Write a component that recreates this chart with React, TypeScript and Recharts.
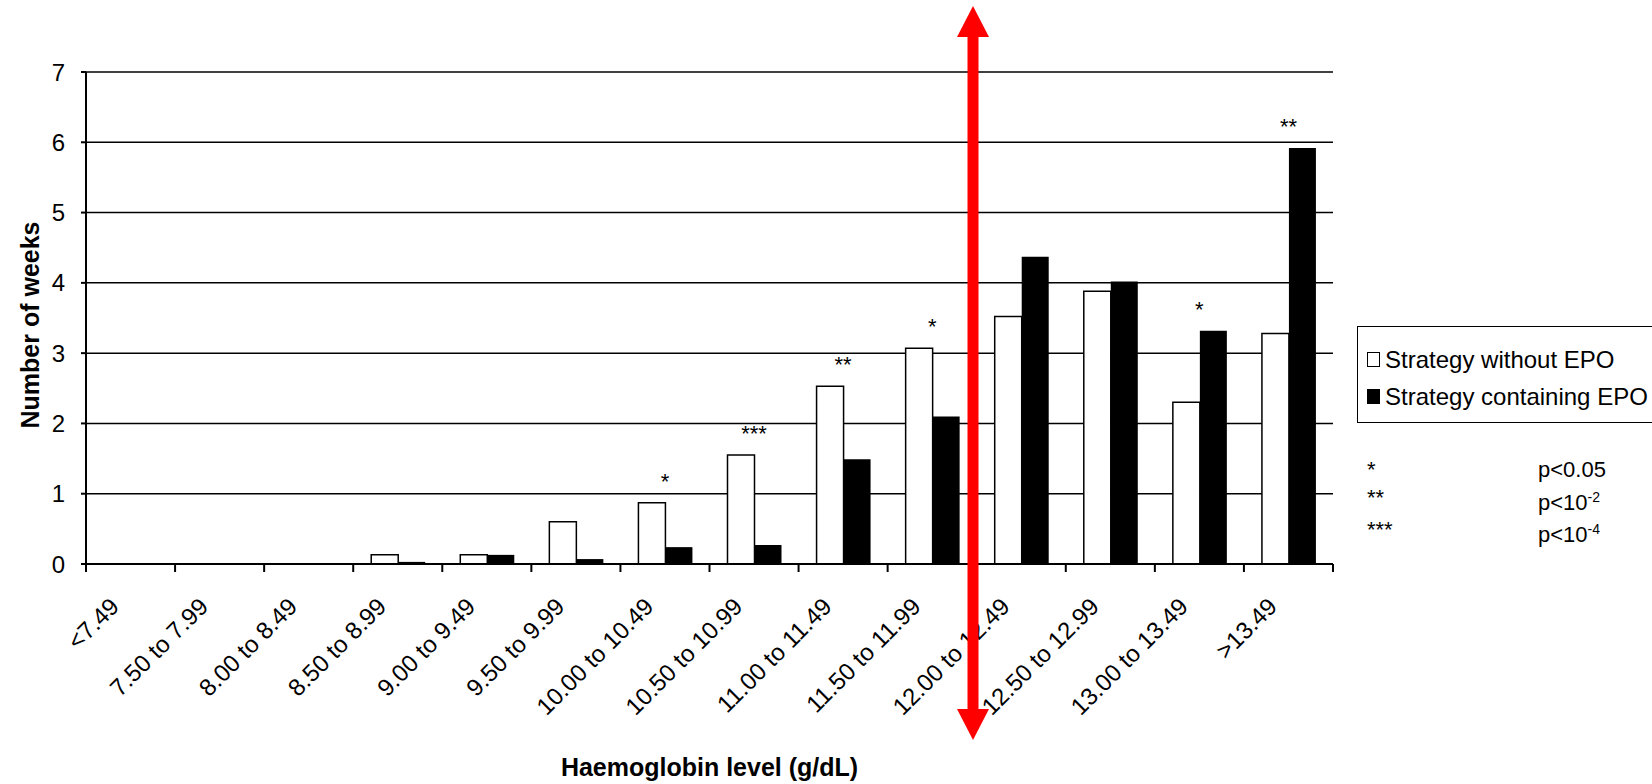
import React from "react";
import {
  ComposedChart,
  Bar,
  Line,
  XAxis,
  YAxis,
  CartesianGrid,
  Legend,
  LabelList,
} from "recharts";

const categories = [
  "<7.49",
  "7.50 to 7.99",
  "8.00 to 8.49",
  "8.50 to 8.99",
  "9.00 to 9.49",
  "9.50 to 9.99",
  "10.00 to 10.49",
  "10.50 to 10.99",
  "11.00 to 11.49",
  "11.50 to 11.99",
  "12.00 to 12.49",
  "12.50 to 12.99",
  "13.00 to 13.49",
  ">13.49",
];
const seriesNames = ["Strategy without EPO", "Strategy containing EPO"];
const withoutEpo = [0, 0, 0, 0.13, 0.13, 0.6, 0.87, 1.55, 2.53, 3.07, 3.52, 3.88, 2.3, 3.28];
const containingEpo = [0, 0, 0, 0.03, 0.13, 0.07, 0.24, 0.27, 1.49, 2.1, 4.37, 4.02, 3.32, 5.92];
const significance = ["", "", "", "", "", "", "*", "***", "**", "*", "", "", "*", "**"];
const yTicks = [0, 1, 2, 3, 4, 5, 6, 7];
const notes = [
  { stars: "*", text: "p<0.05", exp: "" },
  { stars: "**", text: "p<10", exp: "-2" },
  { stars: "***", text: "p<10", exp: "-4" },
];

const data = categories.map((cat, i) => ({
  cat,
  without: withoutEpo[i],
  containing: containingEpo[i],
  top: Math.max(withoutEpo[i], containingEpo[i]),
  mark: significance[i],
}));

const FONT = "'Liberation Sans', Arial, sans-serif";
const W = 1652;
const H = 784;
const PLOT_LEFT = 86;
const PLOT_RIGHT = 1333;
const BAND = (PLOT_RIGHT - PLOT_LEFT) / categories.length;

function XTick(props: any) {
  const { x, y, payload, index } = props;
  const tx = x - 10;
  const ty = y + 44;
  return (
    <g>
      <line x1={x - BAND / 2} x2={x - BAND / 2} y1={y} y2={y + 8} stroke="#000" strokeWidth={2} />
      {index === categories.length - 1 && (
        <line x1={x + BAND / 2} x2={x + BAND / 2} y1={y} y2={y + 8} stroke="#000" strokeWidth={2} />
      )}
      <text
        x={tx}
        y={ty}
        transform={`rotate(-45 ${tx} ${ty})`}
        textAnchor="end"
        fontSize={24}
        fontFamily={FONT}
        fill="#000"
      >
        {payload.value}
      </text>
    </g>
  );
}

function LegendBox(props: any) {
  const items = (props.payload || [])
    .filter((p: any) => seriesNames.includes(p.value))
    .sort((a: any, b: any) => seriesNames.indexOf(a.value) - seriesNames.indexOf(b.value));
  return (
    <div style={{ fontFamily: FONT, color: "#000" }}>
      <div
        style={{
          border: "1.5px solid #000",
          boxSizing: "border-box",
          height: 97,
          paddingTop: 14,
          paddingLeft: 9,
          fontSize: 24,
        }}
      >
        {items.map((it: any) => (
          <div key={it.value} style={{ display: "flex", alignItems: "center", height: 37 }}>
            <span
              style={{
                display: "inline-block",
                width: 11,
                height: 13,
                border: "1.5px solid #000",
                background: it.color,
                marginRight: 5,
              }}
            />
            <span style={{ whiteSpace: "nowrap" }}>{it.value}</span>
          </div>
        ))}
      </div>
      <div style={{ marginTop: 33, fontSize: 22, lineHeight: "27.5px" }}>
        {notes.map((n) => (
          <div key={n.stars} style={{ display: "flex" }}>
            <span style={{ width: 181, paddingLeft: 10, boxSizing: "border-box" }}>{n.stars}</span>
            <span style={{ whiteSpace: "nowrap" }}>
              {n.text}
              {n.exp && <sup style={{ fontSize: 14 }}>{n.exp}</sup>}
            </span>
          </div>
        ))}
      </div>
    </div>
  );
}

export default function App() {
  return (
    <div style={{ position: "absolute", left: 0, top: 0, width: W, height: H, background: "#fff" }}>
      <ComposedChart
        width={W}
        height={H}
        data={data}
        margin={{ top: 72, right: W - PLOT_RIGHT, bottom: 0, left: 0 }}
        barGap={0}
        barSize={27}
      >
        <CartesianGrid vertical={false} stroke="#000" strokeWidth={1.5} />
        <XAxis
          dataKey="cat"
          interval={0}
          height={220}
          tickSize={0}
          tickMargin={0}
          tickLine={false}
          axisLine={{ stroke: "#000", strokeWidth: 2 }}
          tick={<XTick />}
          label={{
            value: "Haemoglobin level (g/dL)",
            position: "insideBottom",
            offset: 8,
            style: { fontFamily: FONT, fontSize: 25, fontWeight: "bold", fill: "#000" },
          }}
        />
        <YAxis
          width={PLOT_LEFT}
          domain={[0, 7]}
          ticks={yTicks}
          interval={0}
          tickSize={5}
          tickMargin={16}
          axisLine={{ stroke: "#000", strokeWidth: 2 }}
          tickLine={{ stroke: "#000", strokeWidth: 2 }}
          tick={{ fontSize: 24, fontFamily: FONT, fill: "#000" }}
          label={{
            value: "Number of weeks",
            content: () => (
              <text
                x={30}
                y={325}
                transform="rotate(-90 30 325)"
                textAnchor="middle"
                dominantBaseline="central"
                fontSize={25}
                fontWeight="bold"
                fontFamily={FONT}
                fill="#000"
              >
                Number of weeks
              </text>
            ),
          }}
        />
        <Legend
          layout="vertical"
          align="center"
          verticalAlign="middle"
          content={<LegendBox />}
          wrapperStyle={{ left: 1357, top: 326, width: 300, height: "auto" }}
        />
        <Bar
          dataKey="without"
          name={seriesNames[0]}
          fill="#fff"
          stroke="#000"
          strokeWidth={1.5}
          isAnimationActive={false}
        />
        <Bar dataKey="containing" name={seriesNames[1]} fill="#000" isAnimationActive={false} />
        <Line
          dataKey="top"
          stroke="none"
          dot={false}
          activeDot={false}
          legendType="none"
          isAnimationActive={false}
        >
          <LabelList
            dataKey="mark"
            position="top"
            offset={14}
            style={{ fontFamily: FONT, fontSize: 22, fill: "#000" }}
          />
        </Line>
      </ComposedChart>
      <svg
        width={W}
        height={H}
        style={{ position: "absolute", left: 0, top: 0, pointerEvents: "none" }}
      >
        <rect x={967.5} y={36} width={11} height={675} fill="#ff0000" />
        <polygon points="973,6 957,37 989,37" fill="#ff0000" />
        <polygon points="973,740 957,709 989,709" fill="#ff0000" />
      </svg>
    </div>
  );
}
